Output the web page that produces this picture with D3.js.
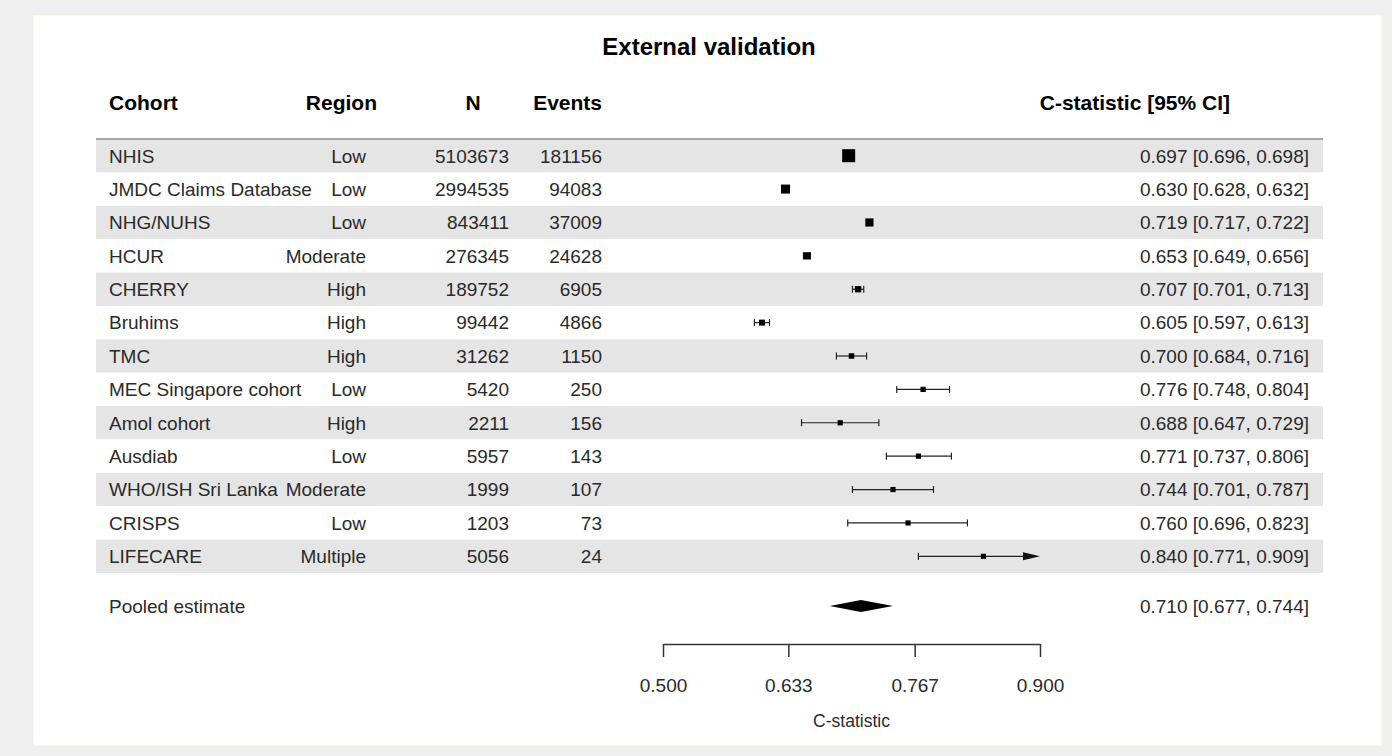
<!DOCTYPE html>
<html>
<head>
<meta charset="utf-8">
<script src="https://cdn.jsdelivr.net/npm/d3@7"></script>
<style>
  body { margin: 0; background: #efefef; }
  svg { display: block; font-family: "Liberation Sans", Arial, sans-serif; }
</style>
</head>
<body>
<svg id="chart" width="1392" height="756"></svg>
<script>
// data
var cohorts = ["NHIS", "JMDC Claims Database", "NHG/NUHS", "HCUR", "CHERRY", "Bruhims", "TMC",
  "MEC Singapore cohort", "Amol cohort", "Ausdiab", "WHO/ISH Sri Lanka", "CRISPS", "LIFECARE"];
var regions = ["Low", "Low", "Low", "Moderate", "High", "High", "High", "Low", "High", "Low", "Moderate", "Low", "Multiple"];
var nTotal = [5103673, 2994535, 843411, 276345, 189752, 99442, 31262, 5420, 2211, 5957, 1999, 1203, 5056];
var nEvents = [181156, 94083, 37009, 24628, 6905, 4866, 1150, 250, 156, 143, 107, 73, 24];
var cstat = [0.697, 0.630, 0.719, 0.653, 0.707, 0.605, 0.700, 0.776, 0.688, 0.771, 0.744, 0.760, 0.840];
var lower = [0.696, 0.628, 0.717, 0.649, 0.701, 0.597, 0.684, 0.748, 0.647, 0.737, 0.701, 0.696, 0.771];
var upper = [0.698, 0.632, 0.722, 0.656, 0.713, 0.613, 0.716, 0.804, 0.729, 0.806, 0.787, 0.823, 0.909];
var pooled = {label: "Pooled estimate", est: 0.710, lo: 0.677, hi: 0.744};
var xTicks = [0.5, 0.633, 0.767, 0.9];

var svg = d3.select("#chart");
var f3 = d3.format(".3f");

var rows = cohorts.map(function(c, i) {
  return {cohort: c, region: regions[i], n: nTotal[i], events: nEvents[i],
          est: cstat[i], lo: lower[i], hi: upper[i]};
});

// white panel
svg.append("rect")
  .attr("x", 33).attr("y", 15).attr("width", 1349).attr("height", 731)
  .attr("fill", "#fff").attr("stroke", "#eef0dc").attr("stroke-width", 1);

var x = d3.scaleLinear().domain([0.5, 0.9]).range([663, 1040]);
var y = d3.scaleBand().domain(d3.range(rows.length)).range([139, 573]);
// marker size grows with precision (1 / CI width)
var size = d3.scaleLinear().domain([0, 500]).range([5, 13]);

// title
svg.append("text")
  .attr("x", 709).attr("y", 55)
  .attr("text-anchor", "middle")
  .attr("font-size", 24).attr("font-weight", "bold")
  .text("External validation");

// headers
var headers = [
  {t: "Cohort", x: 109, a: "start"},
  {t: "Region", x: 377, a: "end"},
  {t: "N", x: 473, a: "middle"},
  {t: "Events", x: 602, a: "end"},
  {t: "C-statistic [95% CI]", x: 1230, a: "end"}
];
svg.append("g").selectAll("text")
  .data(headers).enter().append("text")
  .attr("x", function(d) { return d.x; })
  .attr("y", 110)
  .attr("text-anchor", function(d) { return d.a; })
  .attr("font-size", 21).attr("font-weight", "bold")
  .text(function(d) { return d.t; });

// stripes
svg.append("g").selectAll("rect")
  .data(rows).enter().append("rect")
  .attr("x", 96).attr("width", 1227)
  .attr("y", function(d, i) { return y(i); })
  .attr("height", y.bandwidth())
  .attr("fill", function(d, i) { return i % 2 == 0 ? "#e5e5e5" : "#fff"; });

svg.append("line")
  .attr("x1", 96).attr("x2", 1323).attr("y1", 139).attr("y2", 139)
  .attr("stroke", "#a5a5a5").attr("stroke-width", 2);

// table columns
var cols = [
  {key: function(d) { return d.cohort; }, x: 109, a: "start"},
  {key: function(d) { return d.region; }, x: 366, a: "end"},
  {key: function(d) { return d.n; }, x: 509, a: "end"},
  {key: function(d) { return d.events; }, x: 602, a: "end"},
  {key: function(d) { return f3(d.est) + " [" + f3(d.lo) + ", " + f3(d.hi) + "]"; }, x: 1309, a: "end"}
];
var tbl = svg.append("g").attr("font-size", 19).attr("fill", "#2a2a2a");
cols.forEach(function(c) {
  tbl.append("g").selectAll("text")
    .data(rows).enter().append("text")
    .attr("x", c.x)
    .attr("y", function(d, i) { return y(i) + y.bandwidth() / 2; })
    .attr("dy", "0.36em")
    .attr("text-anchor", c.a)
    .text(c.key);
});

// CI lines
var xMax = x.domain()[1];
var ci = svg.append("g").attr("stroke", "#222").attr("stroke-width", 1.2);
rows.forEach(function(d, i) {
  var cy = y(i) + y.bandwidth() / 2;
  var right = d.hi > xMax ? x(xMax) - 16 : x(d.hi);
  ci.append("line").attr("x1", x(d.lo)).attr("x2", right).attr("y1", cy).attr("y2", cy);
  ci.append("line").attr("x1", x(d.lo)).attr("x2", x(d.lo)).attr("y1", cy - 3.5).attr("y2", cy + 3.5);
  if (d.hi > xMax) {
    svg.append("path")
      .attr("d", "M" + (x(xMax) - 17) + "," + (cy - 4) + "L" + x(xMax) + "," + cy + "L" + (x(xMax) - 17) + "," + (cy + 4) + "Z")
      .attr("fill", "#111");
  } else {
    ci.append("line").attr("x1", x(d.hi)).attr("x2", x(d.hi)).attr("y1", cy - 3.5).attr("y2", cy + 3.5);
  }
});

// point markers
svg.append("g").selectAll("rect")
  .data(rows).enter().append("rect")
  .attr("width", function(d) { return size(1 / (d.hi - d.lo)); })
  .attr("height", function(d) { return size(1 / (d.hi - d.lo)); })
  .attr("x", function(d) { return x(d.est) - size(1 / (d.hi - d.lo)) / 2; })
  .attr("y", function(d, i) { return y(i) + y.bandwidth() / 2 - size(1 / (d.hi - d.lo)) / 2; })
  .attr("fill", "#000");

// pooled row
var py = 606;
svg.append("text").attr("x", 109).attr("y", py).attr("dy", "0.36em")
  .attr("font-size", 19).attr("fill", "#2a2a2a").text(pooled.label);
svg.append("text").attr("x", 1309).attr("y", py).attr("dy", "0.36em")
  .attr("text-anchor", "end").attr("font-size", 19).attr("fill", "#2a2a2a")
  .text(f3(pooled.est) + " [" + f3(pooled.lo) + ", " + f3(pooled.hi) + "]");
svg.append("path")
  .attr("d", "M" + x(pooled.lo) + "," + py + "L" + x(pooled.est) + "," + (py - 6) +
             "L" + x(pooled.hi) + "," + py + "L" + x(pooled.est) + "," + (py + 6) + "Z")
  .attr("fill", "#000");

// x axis
var axis = svg.append("g")
  .attr("transform", "translate(0,644)")
  .call(d3.axisBottom(x).tickValues(xTicks).tickFormat(f3).tickSize(13).tickPadding(22).tickSizeOuter(0));
axis.select(".domain").attr("stroke", "#333").attr("stroke-width", 1.5);
axis.selectAll(".tick line").attr("stroke", "#333").attr("stroke-width", 1.5).attr("y1", 0);
axis.selectAll(".tick text").attr("font-size", 19).attr("fill", "#2a2a2a")
  .attr("font-family", "Liberation Sans, Arial, sans-serif");

svg.append("text")
  .attr("x", x(0.7)).attr("y", 727)
  .attr("text-anchor", "middle").attr("font-size", 17.5).attr("fill", "#2a2a2a")
  .text("C-statistic");
</script>
</body>
</html>
